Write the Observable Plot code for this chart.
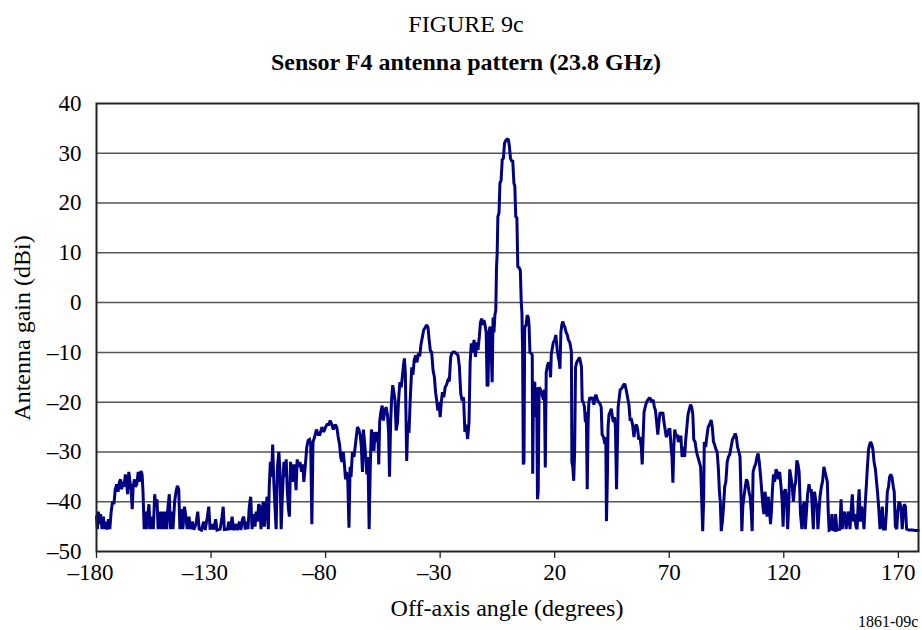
<!DOCTYPE html>
<html>
<head>
<meta charset="utf-8">
<script src="https://cdn.jsdelivr.net/npm/d3@7"></script>
<script src="https://cdn.jsdelivr.net/npm/@observablehq/plot@0.6"></script>
<style>
  body { margin: 0; background: #fff; }
  #wrap { position: relative; width: 922px; height: 630px; overflow: hidden;
          font-family: "Liberation Serif", "Times New Roman", "DejaVu Serif", serif; color: #000; }
  .t { position: absolute; white-space: nowrap; line-height: 1; }
  #chart { position: absolute; left: 0; top: 0; }
</style>
</head>
<body>
<div id="wrap">
  <div id="chart"></div>
  <div class="t" style="left:366px;width:200px;text-align:center;top:12px;font-size:24px;">FIGURE 9c</div>
  <div class="t" style="left:216px;width:500px;text-align:center;top:50px;font-size:24px;font-weight:bold;">Sensor F4 antenna pattern (23.8 GHz)</div>
  <div class="t" style="left:22px;top:328px;font-size:24px;transform:translate(-50%,-50%) rotate(-90deg);">Antenna gain (dBi)</div>
  <div class="t" style="left:307px;width:400px;text-align:center;top:596px;font-size:24px;">Off-axis angle (degrees)</div>
  <div class="t" style="left:858px;top:614px;font-size:16px;">1861-09c</div>
</div>
<script>
// ---- data: [off-axis angle (deg), gain (dBi)] ----
const farLeft = [
[-180,-43],[-179.6,-45.5],[-179.2,-42],[-178.6,-44.5],[-178.2,-42.5],[-177.6,-45.5],[-177,-43],[-176.5,-45.5],
[-176,-44],[-175.4,-45.6],[-174.8,-43.5],[-174.2,-45.5],[-173.6,-42],[-173,-40],[-172.4,-40.5],[-171.8,-37.5],
[-171.2,-36.5],[-170.6,-38],[-170,-36],[-169.5,-35.5],[-169,-37.5],[-168.4,-36],[-168,-37],[-167.4,-34.5],
[-166.8,-36.5],[-166.4,-38.5],[-165.9,-34],[-165.4,-36],[-164.9,-37.5],[-164.4,-41.5],[-164,-37],[-163.4,-35.5],
[-163,-37],[-162.4,-36.5],[-161.8,-34],[-161.2,-36],[-160.6,-33.8],[-160.1,-34.5],[-159.7,-38],[-159.2,-45.5],
[-158.6,-42],[-158.1,-45.5],[-157.6,-42.5],[-157.1,-40.5],[-156.6,-45.5],[-155.8,-43],[-155.2,-45.5],[-154.6,-38.5],
[-154.1,-41],[-153.6,-39.5],[-153.1,-45.5],[-152.6,-42],[-152.1,-45.5],[-151.3,-42],[-150.7,-45.5],[-150.1,-42],
[-149.5,-45.5],[-148.8,-41],[-148.2,-38.5],[-147.8,-45.5],[-147.2,-42],[-146.6,-45.5],[-145.9,-40],[-145.3,-38],
[-144.7,-36.8],[-144.1,-37.5],[-143.6,-45.5],[-143,-41.5],[-142.3,-45.5],[-141.6,-41],[-141,-43],[-140.4,-45.5],
[-139.6,-43],[-139,-45.5],[-138.2,-44],[-137.5,-45.6],[-136.6,-44.5],[-135.8,-42],[-135.2,-45.5],[-134.2,-45.7],
[-133.2,-44],[-132.6,-45.7],[-131.6,-43],[-131,-41],[-130.4,-45.6],[-129.6,-44.5],[-128.8,-45.6],[-128,-43.5],
[-127.4,-45.7],[-126,-45.5],[-125.2,-43],[-124.7,-41],[-124.2,-45.6],[-122.8,-45.5],[-122.2,-44],[-121.6,-45.7],
[-120.8,-43],[-120.2,-45.7],[-119.2,-44.5],[-118.6,-45.7],[-117.6,-44],[-117,-45.7],[-116.3,-43.5],[-115.7,-43],
[-115.1,-45.6],[-114.5,-44],[-113.9,-45.5],[-113.3,-41],[-112.7,-39],[-112.1,-45.5],[-111.5,-42.5],[-110.8,-45],
[-110.3,-42],[-109.8,-44],[-109.2,-40.5],[-108.7,-41],[-108.2,-45.5],[-107.7,-42],[-107.2,-40],[-106.7,-45],
[-106.1,-41],[-105.5,-39],[-105,-45.5]
];
const nearLeft = [
[-104.6,-37],[-104.1,-32],[-103.6,-35],[-103.1,-28.5],[-102.6,-36],[-102.1,-41],[-101.6,-45.5],[-101,-33],
[-100.4,-30],[-99.9,-34],[-99.4,-45.5],[-98.8,-38],[-98.2,-32],[-97.7,-35],[-97.2,-31.5],[-96.7,-38],
[-96.2,-41.5],[-95.8,-43],[-95.3,-32],[-94.8,-34],[-94.4,-36],[-93.8,-32.5],[-93.3,-34.5],[-92.9,-37.7],
[-92.4,-31.5],[-91.8,-33],[-91.2,-32],[-90.5,-34],[-89.9,-32.5],[-89.5,-36],[-88.9,-33],[-88.2,-29],
[-87.6,-27.7],[-87,-27.5],[-86.5,-28.5],[-86,-44.5],[-85.5,-28],[-84.8,-27],[-84,-25.5],[-83.2,-26.5],
[-82.5,-26.5],[-81.6,-25],[-80.8,-26],[-80,-25],[-79.4,-24.5],[-78.6,-24.5],[-78,-23.7],[-77.3,-24.5],
[-76.6,-25.5],[-75.8,-24.5],[-75.1,-25],[-74.5,-27],[-73.9,-28.5],[-73.4,-31],[-72.9,-32],[-72.3,-30],
[-71.7,-33],[-71.3,-35.5],[-70.8,-34],[-70.3,-36],[-69.8,-45.2],[-69.3,-33],[-68.9,-35],[-68.3,-30],
[-67.6,-31],[-67.1,-29],[-66.6,-27],[-66.1,-25],[-65.5,-25.5],[-64.9,-26.5],[-64.4,-29],[-63.9,-34],
[-63.5,-25.5],[-63,-28],[-62.5,-31],[-62,-34.5],[-61.5,-31],[-61,-45.5],[-60.5,-33],[-60,-25.5],
[-59.4,-27],[-58.9,-29.8],[-58.4,-26],[-57.8,-28],[-57.2,-26],[-56.8,-32.5],[-56.4,-24],[-55.9,-22],
[-55.3,-20.7],[-54.8,-23.7],[-54.2,-22],[-53.6,-21],[-53,-22.5],[-52.5,-26],[-52.1,-35],[-51.6,-24],
[-51.2,-19.5],[-50.7,-16.6],[-50.2,-18],[-49.7,-19.7],[-49.2,-25.7],[-48.6,-24],[-48.2,-20],[-47.6,-16],
[-47,-17],[-46.5,-15],[-46,-12.5],[-45.6,-11.2],[-45.2,-14],[-44.6,-31.8],[-44.1,-24],[-43.6,-26.2],
[-43.1,-20],[-42.4,-13],[-41.9,-14.5],[-41.3,-11.5],[-40.7,-10.6],[-40.1,-12],[-39.5,-10.2],[-38.9,-10.8],
[-38.4,-8.5],[-37.8,-7],[-37.2,-5.5],[-36.5,-5],[-35.9,-4.5],[-35.3,-5],[-34.8,-7.5],[-34.3,-9.6],
[-33.7,-10],[-33.1,-13.6],[-32.5,-15],[-32,-18],[-31.5,-19.7],[-31,-21.7],[-30.5,-20],[-30,-23],
[-29.5,-20],[-29,-18],[-28.4,-19],[-27.8,-17],[-27.2,-16.5],[-26.6,-15.6],[-26,-15.8],[-25.4,-11],
[-24.9,-10.2],[-24.2,-9.9],[-23.5,-10],[-22.8,-10.3],[-22.2,-10.6],[-21.6,-12.9],[-21,-18.3],[-20.4,-19.7],
[-19.8,-19],[-19.2,-26],[-18.6,-24.5],[-18,-27.4],[-17.4,-24],[-16.9,-12],[-16.4,-8.2],[-15.8,-10],
[-15.2,-7.5],[-14.6,-10.9],[-14,-8],[-13.5,-9.5],[-12.9,-6.9],[-12.4,-4],[-11.9,-3.2],[-11.4,-4.5],
[-10.9,-3.5],[-10.4,-4.5],[-9.9,-6],[-9.5,-16.8],[-9.1,-16.5],[-8.7,-6],[-8.2,-4.8],[-7.8,-8.2]
];
const mainLobe = [
[-7.3,-16],[-6.9,-3],[-6.5,-6],[-6.1,-2.5],[-5.7,-1.5],[-5.4,7],[-5.1,10],[-4.8,17.3],
[-4.3,18],[-3.9,24],[-3.4,24.5],[-2.9,28.7],[-2.4,29],[-1.9,32],[-1.3,32.6],[-0.7,32.8],
[-0.2,32.7],[0.2,31.5],[0.7,29],[1.2,28.5],[1.7,28.4],[2.2,24],[2.6,23.4],[3,17.3],
[3.5,17],[3.9,7.2],[4.5,7],[5,6.5],[5.4,0],[5.7,-2],[6,-10],[6.3,-32.5]
];
const nearRight = [
[6.6,-32],[6.9,-5],[7.5,-4.5],[8,-2.5],[8.5,-3],[8.8,-4.5],[9.2,-10],[9.8,-10.2],
[10.2,-10.5],[10.4,-34.4],[10.8,-16.2],[11.3,-16],[11.7,-23],[12.1,-17],[12.5,-39.5],[12.8,-38],
[13.2,-17],[13.8,-17.5],[14.5,-18.5],[15.1,-19.5],[15.5,-17.5],[15.9,-33.1],[16.3,-14],[16.9,-12.5],
[17.4,-12],[17.9,-13],[18.2,-15],[18.5,-10.5],[19,-9],[19.4,-8],[20,-7.5],[20.5,-6.5],
[21.1,-9.5],[21.6,-11],[22,-12],[22.3,-13.3],[22.7,-6],[23.1,-4.5],[23.5,-3.8],[24,-4.5],
[24.5,-5],[25,-6],[25.5,-6.5],[26,-7.5],[26.6,-8],[27,-9],[27.3,-10],[27.5,-32],
[27.9,-33],[28.3,-35.8],[28.7,-30],[29.1,-13],[29.6,-12],[30.2,-11.5],[30.8,-11],[31.3,-12],
[31.7,-13],[32,-19.7],[32.5,-20],[33,-21],[33.4,-24],[33.8,-22],[34.2,-37.5],[34.6,-24],
[34.9,-20],[35.4,-19],[36,-19.5],[36.6,-19],[37.1,-20.5],[37.6,-19],[38,-18.5],[38.6,-19.5],
[39.2,-20],[39.8,-20.3],[40.3,-21],[40.7,-26.5],[41.3,-27],[41.9,-28.4],[42.3,-27],[42.6,-43.9],
[43,-35],[43.3,-25],[43.7,-22.5],[44.2,-22],[44.7,-21.3],[45.2,-23],[45.6,-24],[46.1,-23],
[46.5,-25],[47,-37.5],[47.3,-30],[47.7,-21],[48.2,-19],[48.6,-17.5],[49.3,-17.2],[50,-16.6],
[50.6,-16.3],[51.2,-17.5],[51.8,-19],[52.4,-20.5],[52.9,-23.5],[53.5,-23.5],[54,-24.5],[54.6,-27],
[55.1,-25],[55.7,-24.5],[56.2,-25.5],[56.7,-27.5],[57.2,-27],[57.8,-29],[58.2,-32.5],[58.6,-27],
[59,-22],[59.5,-21],[60.1,-20],[60.7,-19.5],[61.3,-19.2],[61.8,-19.3],[62.4,-20],[63,-19.5],
[63.5,-21],[64,-21.7],[64.5,-24],[65,-26.5],[65.5,-24],[66,-22],[66.6,-22.5],[67.2,-22],
[67.7,-24],[68.2,-25.5],[68.7,-27],[69.2,-26.5],[69.8,-25.5],[70.3,-25.5],[70.8,-29],[71.2,-31],
[71.6,-36.2],[72,-29],[72.4,-25.5],[73,-27],[73.5,-26.5],[74,-28],[74.6,-27],[75.1,-27]
];
const farRight = [
[75.6,-31],[76.2,-29],[76.7,-31],[77.2,-27.5],[77.7,-25],[78.2,-22.5],[78.7,-21.5],[79.3,-20.5],
[79.8,-21],[80.3,-22.5],[80.7,-27.5],[81.3,-28],[81.9,-30],[82.5,-31],[83.1,-32],[83.7,-33],
[84.2,-40],[84.6,-45.9],[85,-40],[85.3,-28],[85.9,-29],[86.4,-27],[87,-25],[87.6,-24.5],
[88.3,-23.6],[88.8,-25],[89.3,-28],[89.8,-28.5],[90.4,-29.5],[90.9,-30],[91.4,-33],[91.9,-38],
[92.3,-40],[92.7,-45.9],[93.2,-44],[93.7,-41],[94.2,-37],[94.7,-36],[95.3,-32],[95.8,-31],
[96.4,-30.5],[97,-29],[97.6,-27.5],[98.2,-27],[98.8,-26.3],[99.3,-27],[99.8,-29],[100.4,-30],
[100.9,-31],[101.4,-40],[101.7,-45.9],[102.1,-41],[102.6,-39],[103.2,-37],[103.7,-35.5],[104.2,-36],
[104.8,-38],[105.3,-39],[105.8,-42],[106.2,-45.9],[106.6,-34],[107.2,-33],[107.7,-32.5],[108.3,-31],
[108.8,-30.3],[109.3,-32],[109.9,-35],[110.4,-38],[110.9,-41],[111.3,-42.5],[111.8,-38],[112.3,-40],
[112.7,-43],[113.2,-39],[113.7,-41],[114.2,-44.5],[114.6,-42],[115,-38],[115.5,-34.5],[116,-36],
[116.6,-33.5],[117.1,-34],[117.6,-35.5],[118.2,-34],[118.8,-37],[119.3,-40],[119.7,-45],[120.2,-38],
[120.7,-37.5],[121.2,-39.5],[121.7,-45.5],[122.2,-40],[122.6,-33.5],[123.1,-35],[123.7,-37],[124.2,-40],
[124.7,-37],[125.2,-36],[125.7,-31.7],[126.2,-32.5],[126.7,-34],[127.3,-42.5],[127.9,-45.5],[128.4,-41],
[128.9,-40],[129.4,-45.5],[129.9,-42],[130.4,-38.5],[131,-36.5],[131.5,-38],[132,-37.5],[132.5,-42],
[132.9,-45.5],[133.4,-38],[134,-40],[134.5,-41],[134.9,-45.5],[135.4,-42],[135.8,-39],[136.4,-37],
[136.9,-36],[137.5,-33],[138,-34],[138.5,-35],[139,-36],[139.4,-42],[139.8,-45.7],[140.5,-45.5],
[141,-42.5],[141.5,-45.6],[142,-45.7],[142.6,-42.5],[143.2,-45.7],[144.5,-45.5],[145,-39.5],[145.5,-45.5],
[146.1,-43],[146.6,-42],[147.2,-45.5],[147.8,-43],[148.3,-42],[148.9,-45.5],[149.5,-41],[149.9,-38.5],
[150.5,-44],[151,-42.5],[151.5,-45],[152,-45.5],[152.5,-40],[152.9,-37.5],[153.4,-44],[153.9,-41],
[154.4,-42],[155,-45.5],[155.6,-40],[156,-37],[156.5,-33],[157,-29.5],[157.5,-28.5],[157.9,-28],
[158.4,-28.5],[158.9,-29.5],[159.4,-32],[160,-33.5],[160.5,-36],[160.9,-38],[161.4,-41],[162,-45.5],
[162.5,-44],[163,-41],[163.5,-45.5],[164.3,-45.5],[164.8,-42],[165.2,-38],[165.7,-37],[166.2,-35],
[166.7,-34.5],[167.2,-35],[167.8,-37],[168.2,-38],[168.7,-45],[169.3,-45.5],[169.8,-42],[170.3,-40],
[170.8,-40.5],[171.2,-41.5],[171.7,-45.5],[172.2,-42],[172.6,-40.5],[173.1,-41],[173.6,-45.5],[174.6,-45.7],
[176,-45.7],[177.5,-45.8],[178.7,-45.8]
];
const xTicks = [-180, -130, -80, -30, 20, 70, 120, 170];
const yTicks = [-50, -40, -30, -20, -10, 0, 10, 20, 30, 40];
const gridTicks = [-40, -30, -20, -10, 0, 10, 20, 30];

// ---- chart ----
const pattern = [...farLeft, ...nearLeft, ...mainLobe, ...nearRight, ...farRight]
  .map(([a, g]) => ({angle: a, gain: g}));
const fmt = d => (d < 0 ? "\u2013" + Math.abs(d) : String(d));
const font = "Liberation Serif, Times New Roman, DejaVu Serif, serif";

const chart = Plot.plot({
  width: 922,
  height: 630,
  marginLeft: 96,
  marginRight: 4,
  marginTop: 103,
  marginBottom: 79,
  style: {fontFamily: font, fontSize: "23px", color: "#000", background: "transparent"},
  x: {domain: [-180, 178.8], label: null},
  y: {domain: [-50, 40], label: null},
  marks: [
    Plot.ruleY(gridTicks, {stroke: "#555", strokeWidth: 1.5}),
    Plot.line(pattern, {x: "angle", y: "gain", stroke: "#000080", strokeWidth: 3, strokeLinejoin: "miter", strokeMiterlimit: 2}),
    Plot.frame({stroke: "#222", strokeWidth: 2}),
    Plot.axisX(xTicks, {tickSize: 7, tickFormat: () => "", label: null, stroke: "#222", strokeWidth: 1.3}),
    Plot.text(xTicks.filter(d => d < 0), {x: d => d, text: fmt, frameAnchor: "bottom", dy: 28, dx: -6, fontSize: 23, fill: "#000"}),
    Plot.text(xTicks.filter(d => d >= 0), {x: d => d, text: fmt, frameAnchor: "bottom", dy: 28, fontSize: 23, fill: "#000"}),
    Plot.axisY(yTicks, {tickSize: 0, tickPadding: 15, tickFormat: fmt, label: null, fontSize: 23, fill: "#000"})
  ]
});
document.getElementById("chart").appendChild(chart);
</script>
</body>
</html>
